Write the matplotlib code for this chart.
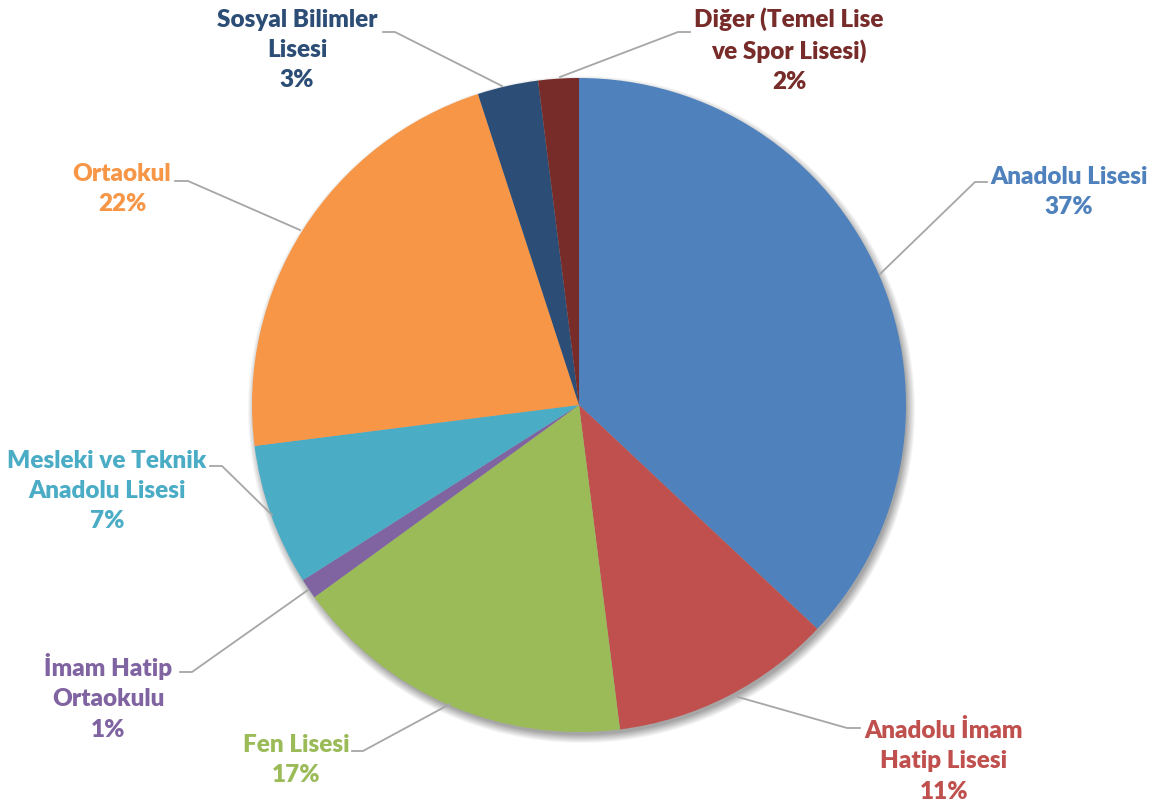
import numpy as np
import matplotlib
matplotlib.use("Agg")
import matplotlib.pyplot as plt

# okul türlerine göre dağılım (%), saat yönünde tepeden başlayarak
etiketler = [
    "Anadolu Lisesi",
    "Anadolu İmam\nHatip Lisesi",
    "Fen Lisesi",
    "İmam Hatip\nOrtaokulu",
    "Mesleki ve Teknik\nAnadolu Lisesi",
    "Ortaokul",
    "Sosyal Bilimler\nLisesi",
    "Diğer (Temel Lise\nve Spor Lisesi)",
]
yuzdeler = [37, 11, 17, 1, 7, 22, 3, 2]
renkler = ["#4F81BD", "#C0504D", "#9BBB59", "#8064A2",
           "#4BACC6", "#F79646", "#2C4D75", "#772C2A"]

W, H = 1160, 808
fig = plt.figure(figsize=(W / 100, H / 100), dpi=100)
ax = fig.add_axes([0, 0, 1, 1])
ax.set_xlim(0, W)
ax.set_ylim(0, H)
ax.axis("off")

cx, cy, r = 579, H - 405, 327

# pastanın altındaki yumuşak gölge
yy, xx = np.mgrid[0:H, 0:W]
d = np.hypot(xx - (cx + 2), (H - yy) - (cy - 4))
alfa = np.clip((r + 7 - d) / 9, 0, 1) * 0.35
golge = np.zeros((H, W, 4))
golge[..., 3] = alfa
ax.imshow(golge, extent=(0, W, 0, H), origin="upper", zorder=0)

ax.pie(yuzdeler, colors=renkler, startangle=90, counterclock=False,
       center=(cx, cy), radius=r, frame=True,
       wedgeprops=dict(linewidth=0))
ax.set_xlim(0, W)
ax.set_ylim(0, H)
ax.set_aspect("equal")
ax.axis("off")

# etiket merkezleri ve bağlantı çizgileri (piksel, yukarıdan aşağı)
etiket_yer = [(1069, 192), (944, 761), (296, 760), (108, 697),
              (107, 491), (122, 189), (297, 50), (789, 50)]
cizgiler = [
    [(987, 182), (975, 182), (880, 274)],
    [(860, 728), (847, 728), (738, 697)],
    [(352, 751), (363, 751), (450, 704)],
    [(180, 672), (192, 672), (308, 590)],
    [(210, 466), (222, 466), (272, 515)],
    [(175, 181), (188, 181), (300, 230)],
    [(383, 32), (395, 32), (502, 86)],
    [(690, 32), (678, 32), (560, 77)],
]

for etiket, yuzde, renk, (tx, ty), cizgi in zip(etiketler, yuzdeler, renkler,
                                               etiket_yer, cizgiler):
    xs = [p[0] for p in cizgi]
    ys = [H - p[1] for p in cizgi]
    ax.plot(xs, ys, color="#A6A6A6", lw=1.3, zorder=3)
    ax.text(tx, H - ty, f"{etiket}\n{yuzde}%", color=renk, ha="center",
            va="center", fontsize=17.5, fontweight="heavy", family="Lato",
            linespacing=1.45, zorder=4)

fig.savefig("out.png", dpi=100)
